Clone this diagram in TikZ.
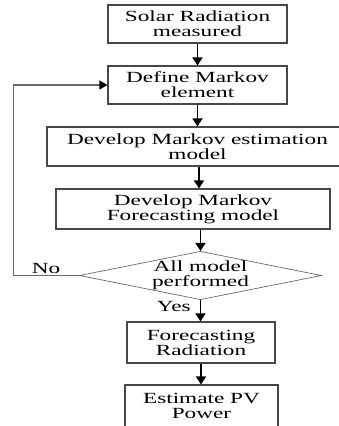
\documentclass[tikz,border=0pt]{standalone}
\usepackage{fontspec}
\newfontfamily\flowfont[FakeStretch=1.5]{Liberation Serif}
\usetikzlibrary{shapes.geometric,arrows.meta,positioning,calc}
\definecolor{boxgray}{RGB}{72, 72, 72}
\definecolor{linegray}{RGB}{105, 105, 105}

\begin{document}
\begin{tikzpicture}[x=1pt, y=-1pt,
  stepbox/.style={draw=boxgray, line width=1.1pt, rectangle, align=center, font=\flowfont\fontsize{15.5}{15}\selectfont, inner sep=0pt},
  decision/.style={draw=linegray, line width=0.7pt, diamond, aspect=5, align=center, font=\flowfont\fontsize{15.5}{15}\selectfont, inner sep=0pt, minimum width=233pt, minimum height=47pt},
  flow/.style={-{Triangle[length=8pt, width=10pt]}, line width=1.6pt},
  loopflow/.style={draw=linegray, line width=1.2pt, -{Triangle[length=8pt, width=9pt, color=black]}},
  tag/.style={font=\flowfont\fontsize{15.5}{15}\selectfont, inner sep=1pt}
]
\useasboundingbox (0,0) rectangle (339,426);

\node[stepbox, minimum width=179pt, minimum height=38pt] (solar) at (197.5, 24) {Solar Radiation\\measured};
\node[stepbox, minimum width=179pt, minimum height=38pt] (define) at (197.5, 85) {Define Markov\\element};
\node[stepbox, minimum width=301pt, minimum height=39pt] (estim) at (197.5, 146.5) {Develop Markov estimation\\model};
\node[stepbox, minimum width=274pt, minimum height=40pt] (fcmodel) at (193, 209) {Develop Markov\\Forecasting model};
\node[decision] (check) at (200.5, 275.5) {All model\\performed};
\node[stepbox, minimum width=148pt, minimum height=41pt] (fcrad) at (201, 342.5) {Forecasting\\Radiation};
\node[stepbox, minimum width=153pt, minimum height=42pt] (pv) at (201.5, 406) {Estimate PV\\Power};

% Connections
\draw[flow] (solar.south) -- (solar.south |- define.north);
\draw[flow] (define.south) -- (define.south |- estim.north);
\draw[flow] ($(estim.south)+(1.5,0)$) -- ($(estim.south |- fcmodel.north)+(1.5,0)$);
\draw[flow] (check.north |- fcmodel.south) -- (check.north);
\draw[flow] (check.south) -- node[tag, left, pos=0.3, xshift=-8pt] {Yes} (check.south |- fcrad.north);
\draw[flow] (fcrad.south) -- (fcrad.south |- pv.north);
\draw[loopflow] (check.west) -- node[tag, above, pos=0.5] {No} ++(-66,0) |- (define.west);

\end{tikzpicture}
\end{document}
